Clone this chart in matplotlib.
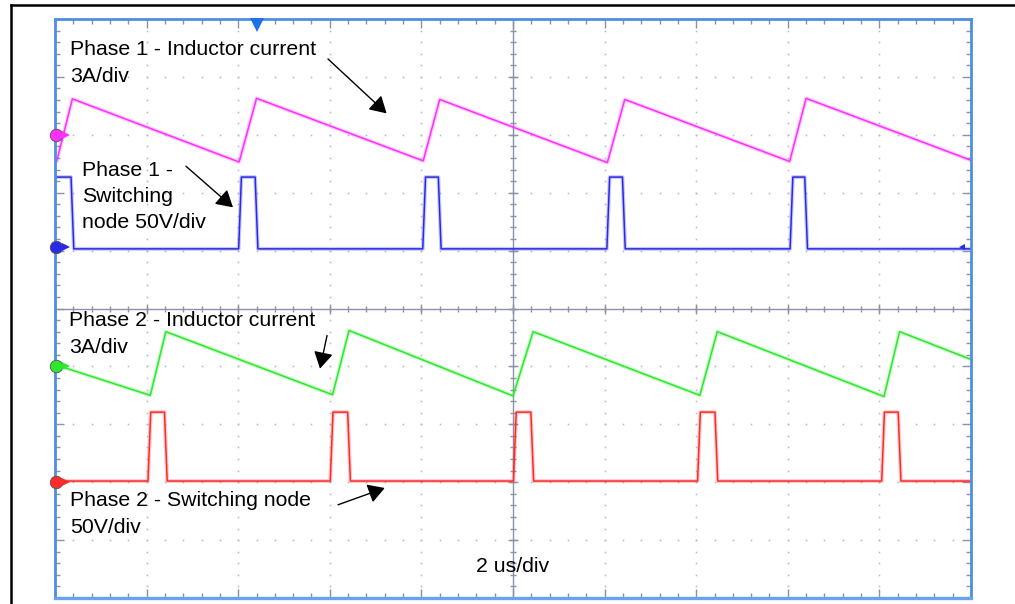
import matplotlib
matplotlib.use('Agg')
import matplotlib.pyplot as plt
import numpy as np
from matplotlib.lines import Line2D

plt.rcParams['font.family'] = ['Liberation Sans', 'DejaVu Sans']

# time axis in divisions (2 us/div), vertical in divisions
# phase 1 inductor current (magenta): ramp corners
p1_i_t = [0.02, 0.19, 2.01, 2.20, 4.02, 4.20, 6.03, 6.22, 8.02, 8.20, 10.0]
p1_i_v = [2.55, 3.62, 2.53, 3.63, 2.55, 3.61, 2.52, 3.61, 2.54, 3.63, 2.56]

# phase 1 switching node (blue)
p1_sw_rise = [2.02, 4.03, 6.04, 8.04]
p1_sw_fall = [0.19, 2.20, 4.20, 6.21, 8.20]
p1_sw_low, p1_sw_high = 1.03, 2.27

# phase 2 inductor current (green)
p2_i_t = [0.0, 1.04, 1.21, 3.03, 3.21, 5.00, 5.22, 7.04, 7.23, 9.05, 9.22, 10.0]
p2_i_v = [-0.97, -1.50, -0.40, -1.49, -0.38, -1.51, -0.40, -1.50, -0.40, -1.52, -0.40, -0.88]

# phase 2 switching node (red)
p2_sw_rise = [1.03, 3.02, 5.02, 7.03, 9.04]
p2_sw_fall = [1.21, 3.21, 5.21, 7.22, 9.22]
p2_sw_low, p2_sw_high = -2.98, -1.79

# channel ground markers
marker_levels = [2.99, 1.06, -0.99, -3.0]
trace_colors = ['#ff30ff', '#2a2ae6', '#2ee82e', '#ff2a2a']


def square_wave(rises, falls, low, high, edge=0.03):
    events = sorted([(t, 1) for t in rises] + [(t, 0) for t in falls])
    ts = [0.0]
    vs = [high if events[0][1] == 0 else low]
    for t, up in events:
        ts += [t - edge / 2, t + edge / 2]
        vs += [low, high] if up else [high, low]
    ts.append(10.0)
    vs.append(vs[-1])
    return ts, vs


fig = plt.figure(figsize=(10.15, 6.04), dpi=100)
ax = fig.add_axes([55 / 1015, 6 / 604, 916 / 1015, 579 / 604])
ax.set_xlim(0, 10)
ax.set_ylim(-5, 5)

# graticule
grid_c = '#b0b6c4'
minor = np.arange(0, 10.01, 0.2)
minor_y = np.arange(-5, 5.01, 0.2)
for gx in range(1, 10):
    if gx == 5:
        continue
    ax.plot(np.full_like(minor_y, gx), minor_y, ls='none', marker='s', ms=1.1, color=grid_c, mew=0)
for gy in range(-4, 5):
    if gy == 0:
        continue
    ax.plot(minor, np.full_like(minor, gy), ls='none', marker='s', ms=1.1, color=grid_c, mew=0)
ax.axhline(0, color='#8a93a8', lw=1.0)
ax.axvline(5, color='#8a93a8', lw=1.0)
ax.plot(minor, np.zeros_like(minor), ls='none', marker='|', ms=4.5, color='#8a93a8', mew=1.0)
ax.plot(np.full_like(minor_y, 5), minor_y, ls='none', marker='_', ms=4.5, color='#8a93a8', mew=1.0)
ax.plot(np.arange(0, 11), np.zeros(11), ls='none', marker='|', ms=7, color='#8a93a8', mew=1.0)
ax.plot(np.full(11, 5), np.arange(-5, 6), ls='none', marker='_', ms=7, color='#8a93a8', mew=1.0)

ax.set_xticks(np.arange(0, 11))
ax.set_yticks(np.arange(-5, 6))
ax.set_xticks(minor, minor=True)
ax.set_yticks(minor_y, minor=True)
ax.tick_params(which='both', direction='in', top=True, right=True, color='#8a93a8',
               labelbottom=False, labelleft=False)
ax.tick_params(which='major', length=6.5, width=1.0)
ax.tick_params(which='minor', length=3.6, width=1.0)
for s in ax.spines.values():
    s.set_color('#4d8fe3')
    s.set_linewidth(2.0)
ax.spines['bottom'].set_linewidth(2.4)
ax.spines['bottom'].set_color('#6aa2ee')

# traces
t1sw, v1sw = square_wave(p1_sw_rise, p1_sw_fall, p1_sw_low, p1_sw_high)
t2sw, v2sw = square_wave(p2_sw_rise, p2_sw_fall, p2_sw_low, p2_sw_high)
traces = [(p1_i_t, p1_i_v), (t1sw, v1sw), (p2_i_t, p2_i_v), (t2sw, v2sw)]
for (tt, vv), c in zip(traces, trace_colors):
    ax.plot(tt, vv, color=c, lw=2.8, alpha=0.25, solid_joinstyle='round')
    ax.plot(tt, vv, color=c, lw=1.1)

# channel markers on the left edge
for lvl, c in zip(marker_levels, trace_colors):
    ax.plot(0.01, lvl, marker='o', ms=9, color=c, mec='#555555', mew=0.6, clip_on=False, zorder=5)
    ax.plot(0.12, lvl, marker='>', ms=6, color=c, mew=0, clip_on=False, zorder=5)
# trigger markers
ax.plot(2.2, 4.90, marker='v', ms=10, color='#1f6fe8', mew=0, clip_on=False, zorder=5)
ax.plot(9.9, 1.06, marker='<', ms=5, color='#2a2ae6', mew=0, clip_on=False, zorder=5)

# annotations
fs = 15.3
ax.text(0.165, 4.377, 'Phase 1 - Inductor current', fontsize=fs, va='baseline')
ax.text(0.165, 3.910, '3A/div', fontsize=fs, va='baseline')
ax.text(0.30, 2.284, 'Phase 1 -', fontsize=fs, va='baseline')
ax.text(0.30, 1.834, 'Switching', fontsize=fs, va='baseline')
ax.text(0.30, 1.384, 'node 50V/div', fontsize=fs, va='baseline')
ax.text(0.155, -0.294, 'Phase 2 - Inductor current', fontsize=fs, va='baseline')
ax.text(0.155, -0.761, '3A/div', fontsize=fs, va='baseline')
ax.text(0.165, -3.408, 'Phase 2 - Switching node', fontsize=fs, va='baseline')
ax.text(0.165, -3.870, '50V/div', fontsize=fs, va='baseline')
ax.text(5.0, -4.55, '2 us/div', fontsize=fs, va='baseline', ha='center')

arrow = dict(arrowstyle='-|>,head_length=0.72,head_width=0.42', color='black', lw=1.0,
             mutation_scale=14, shrinkA=0, shrinkB=0)
ax.annotate('', xy=(3.62, 3.37), xytext=(2.98, 4.31), arrowprops=arrow)
ax.annotate('', xy=(1.943, 1.747), xytext=(1.43, 2.457), arrowprops=arrow)
ax.annotate('', xy=(2.893, -1.038), xytext=(2.97, -0.467), arrowprops=arrow)
ax.annotate('', xy=(3.60, -3.10), xytext=(3.09, -3.39), arrowprops=arrow)

# outer page frame
fig.add_artist(Line2D([11 / 1015, 1.0], [1 - 5 / 604, 1 - 5 / 604], color='black', lw=1.8))
fig.add_artist(Line2D([11 / 1015, 11 / 1015], [0, 1 - 5 / 604], color='black', lw=1.8))

fig.savefig('out.png', dpi=100)
